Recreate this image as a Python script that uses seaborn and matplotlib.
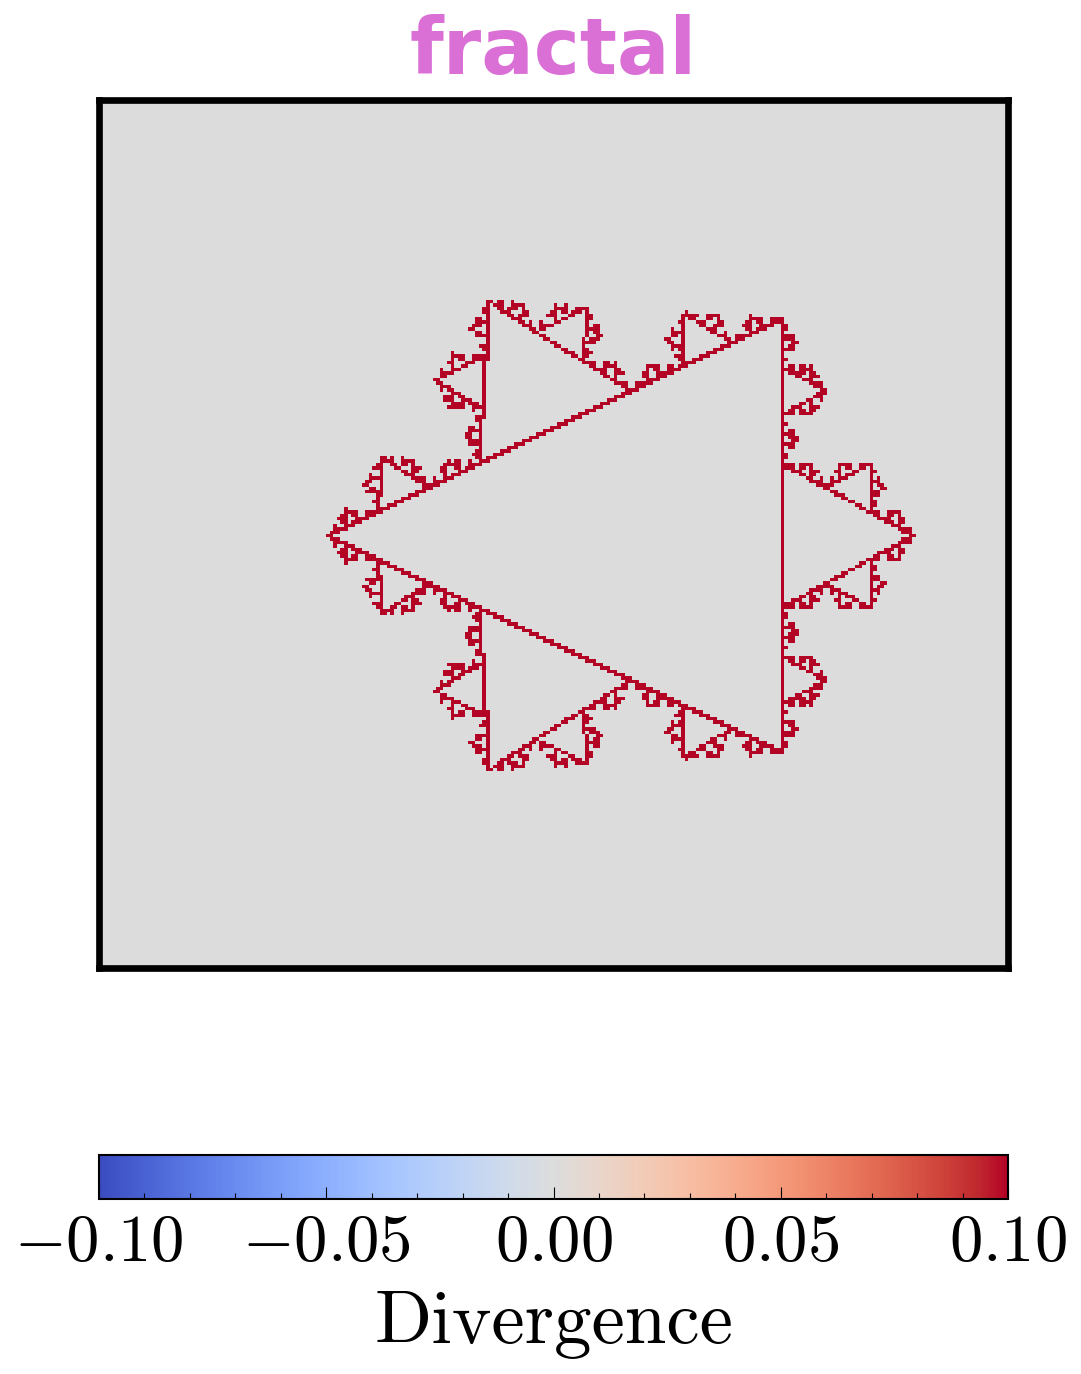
import numpy as np
import matplotlib
matplotlib.use("Agg")
import matplotlib.pyplot as plt
import seaborn as sns
from matplotlib.ticker import MultipleLocator, FuncFormatter

# grid and fractal parameters
grid_size = 256
triangle_cols = [64, 192, 192]
triangle_rows = [128, 64, 192]
koch_depth = 4
boundary_value = 0.1
cbar_ticks = [-0.10, -0.05, 0.00, 0.05, 0.10]
cbar_label = "Divergence"
title = "fractal"


def koch(a, b, depth, segs):
    # keep every level's segment, then push the middle third outwards
    segs.append((a, b))
    if depth == 0:
        return
    d = (b - a) / 3
    p1 = a + d
    p2 = a + 2 * d
    s = np.sqrt(3) / 2
    apex = p1 + np.array([0.5 * d[0] + s * d[1], -s * d[0] + 0.5 * d[1]])
    for u, v in [(a, p1), (p1, apex), (apex, p2), (p2, b)]:
        koch(u, v, depth - 1, segs)


pts = [np.array([c, r], dtype=float) for c, r in zip(triangle_cols, triangle_rows)]
segs = []
for i in range(3):
    koch(pts[i], pts[(i + 1) % 3], koch_depth, segs)

field = np.zeros((grid_size, grid_size))
for a, b in segs:
    n = int(np.abs(b - a).max() * 2) + 2
    t = np.linspace(0, 1, n)
    cols = np.rint(a[0] + (b[0] - a[0]) * t).astype(int)
    rows = np.rint(a[1] + (b[1] - a[1]) * t).astype(int)
    ok = (cols >= 0) & (cols < grid_size) & (rows >= 0) & (rows < grid_size)
    field[rows[ok], cols[ok]] = boundary_value

plt.rcParams["mathtext.fontset"] = "cm"
plt.rcParams["font.family"] = "serif"
plt.rcParams["font.serif"] = ["cmr10"]
plt.rcParams["axes.unicode_minus"] = True

fig = plt.figure(figsize=(10.81, 13.74), dpi=100)
ax = fig.add_axes([99 / 1081, 1 - 968 / 1374, 909 / 1081, 868 / 1374])
cax = fig.add_axes([99 / 1081, 1 - 1199 / 1374, 909 / 1081, 44 / 1374])

sns.heatmap(field, ax=ax, cbar_ax=cax, cmap="coolwarm", vmin=-0.1, vmax=0.1,
            xticklabels=False, yticklabels=False,
            cbar_kws={"orientation": "horizontal"})

for sp in ax.spines.values():
    sp.set_visible(True)
    sp.set_linewidth(4.8)
    sp.set_color("black")
ax.set_title(title, family="DejaVu Sans", fontweight="bold", fontsize=56,
             color="orchid", pad=19)

cbar = ax.collections[0].colorbar
cbar.set_ticks(cbar_ticks)
cax.xaxis.set_minor_locator(MultipleLocator(0.01))
cax.xaxis.set_major_formatter(FuncFormatter(lambda v, p: f"${v:.2f}$"))
cax.tick_params(which="major", direction="in", length=8.6, width=0.8,
                labelsize=48, pad=11)
cax.tick_params(which="minor", direction="in", length=4.3, width=0.8)
cbar.outline.set_linewidth(1.5)
cbar.set_label(cbar_label, fontsize=54, labelpad=12)

fig.savefig("out.png", dpi=100)
